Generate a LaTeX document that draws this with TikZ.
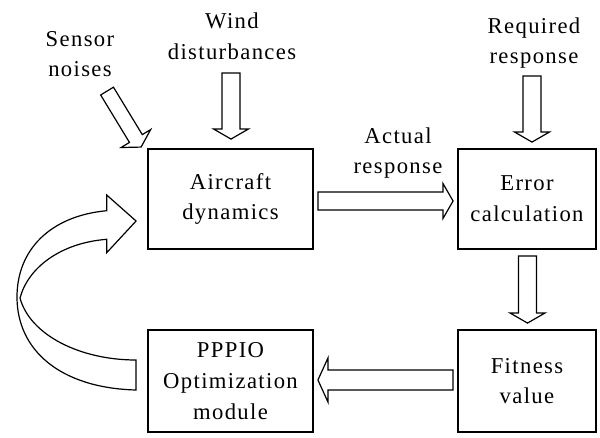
\documentclass[tikz,border=0pt]{standalone}
\usepackage{fontspec}
\setmainfont{Liberation Serif}[LetterSpace=6]
\usetikzlibrary{calc,positioning}

% hollow block arrow: [shaft half width]{from}{to}
\newcommand{\baheadw}{13pt}
\newcommand{\blockarrow}[3][9]{%
  \coordinate (ba-a) at #2;
  \coordinate (ba-b) at #3;
  \coordinate (ba-c) at ($(ba-b)!7.5pt!(ba-a)$);
  \draw[bigarrow] ($(ba-a)!#1*0.75pt!90:(ba-b)$) -- ($(ba-c)!#1*0.75pt!90:(ba-b)$)
    -- ($(ba-c)!\baheadw!90:(ba-b)$) -- (ba-b) -- ($(ba-c)!\baheadw!-90:(ba-b)$)
    -- ($(ba-c)!#1*0.75pt!-90:(ba-b)$) -- ($(ba-a)!#1*0.75pt!-90:(ba-b)$) -- cycle;}

\begin{document}
\begin{tikzpicture}[x=0.75pt,y=-0.75pt,
  every node/.style={font=\fontsize{17}{23}\selectfont},
  block/.style={draw,line width=1.4pt,minimum width=123.75pt,minimum height=75pt,align=center,inner sep=0pt},
  lbl/.style={align=center,inner sep=0pt},
  bigarrow/.style={draw,line width=0.9pt,fill=white,line join=miter}]

\useasboundingbox (0,0) rectangle (600,437);

\node[block] (air) at (230.5,199) {Aircraft\\dynamics};
\node[block,minimum width=103.5pt] (err) at (527,199) {Error\\calculation};
\node[block,minimum height=76.5pt] (pppio) at (230.5,381) {PPPIO\\Optimization\\module};
\node[block,minimum width=103.5pt,minimum height=76.5pt] (fit) at (527,381) {Fitness\\value};

\node[lbl] (sensor) at (80,54) {Sensor\\noises};
\node[lbl] (wind) at (232,36) {Wind\\disturbances};
\node[lbl] (req) at (534,43) {Required\\response};
\node[lbl] (act) at (398,153) {Actual\\response};

\blockarrow[7.5]{($(air.north west)+(-40,-57)$)}{($(air.north west)+(-6,-1)$)}
\blockarrow{($(air.north)+(0.5,-75)$)}{($(air.north)+(0.5,-9)$)}
\blockarrow{($(err.north)+(5,-72)$)}{($(err.north)+(5,-6)$)}
\blockarrow{($(air.east)+(4,2)$)}{($(err.west)+(-4,2)$)}
\blockarrow{($(err.south)+(0.5,6)$)}{($(fit.north)+(0.5,-6)$)}
\begin{scope}
\renewcommand{\baheadw}{16.5pt}
\blockarrow[10]{($(fit.west)+(-4,-1)$)}{($(pppio.east)+(4,-1)$)}
\end{scope}

% feedback loop
\coordinate (loopin) at ($(air.west)+(-11,22)$);
\coordinate (loopout) at ($(pppio.west)+(-11,-21)$);
\draw[bigarrow,fill=none] (loopout) .. controls (80,360) and (30,335) .. (20,298)
  .. controls (28,268) and (60,243) .. (106.7,239.3) -- (106.7,252.7) -- (loopin)
  -- (106.7,195) -- (106.7,210.7) .. controls (50,216) and (17,250) .. (17,297)
  .. controls (17,350) and (60,388) .. ($(loopout)+(0,30)$) -- cycle;

\end{tikzpicture}
\end{document}
